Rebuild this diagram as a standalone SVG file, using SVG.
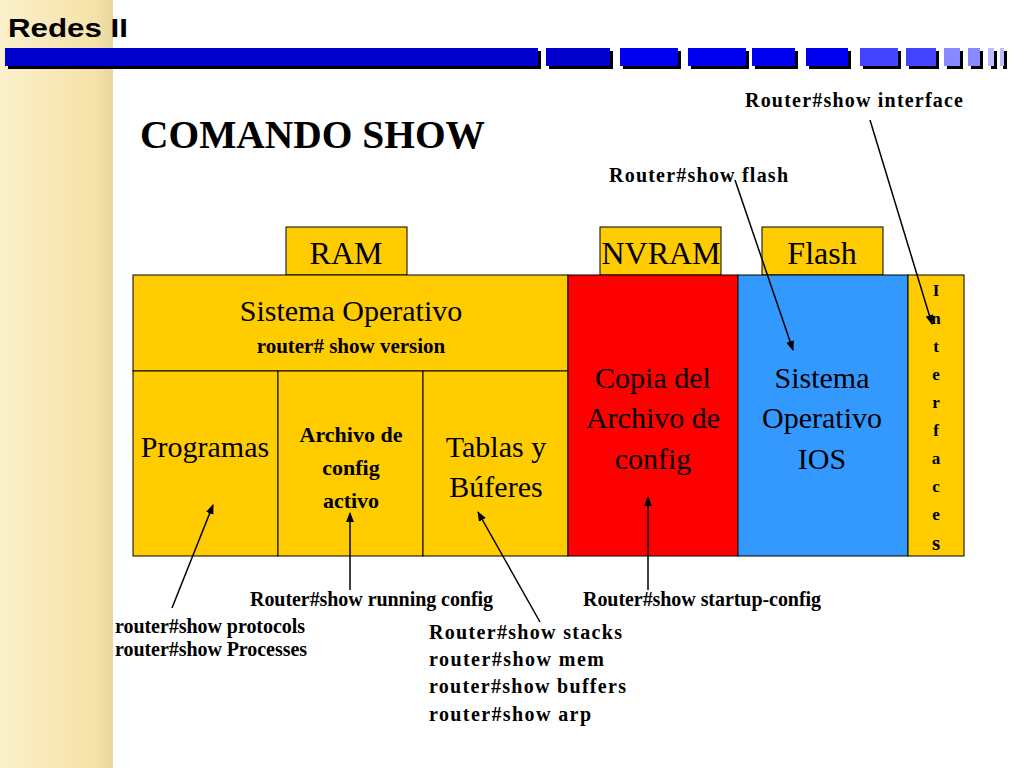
<svg xmlns="http://www.w3.org/2000/svg" width="1024" height="768" viewBox="0 0 1024 768">
<defs>
<linearGradient id="lg" x1="0" x2="1" y1="0" y2="0"><stop offset="0" stop-color="#fbf0cc"/><stop offset="0.85" stop-color="#f6e2a8"/><stop offset="1" stop-color="#e8d6a0"/></linearGradient>
<marker id="ah" markerWidth="10" markerHeight="10" refX="9" refY="5" orient="auto" markerUnits="userSpaceOnUse"><path d="M0,1 L10,5 L0,9 z" fill="#000"/></marker>
</defs>
<style>
.b{stroke:#000;stroke-width:1}
.t{font-family:"Liberation Serif",serif;fill:#000;text-anchor:middle}
.s{font-family:"Liberation Serif",serif;font-weight:bold;font-size:20px;fill:#000}
.c{stroke:#000;stroke-width:1.5;fill:none;marker-end:url(#ah)}
</style>
<rect width="1024" height="768" fill="#fff"/>
<rect x="0" y="0" width="113" height="768" fill="url(#lg)"/>
<text x="8" y="37" font-family="Liberation Sans,sans-serif" font-weight="bold" font-size="26" fill="#000" textLength="120" lengthAdjust="spacingAndGlyphs">Redes II</text>
<g id="bar">
<g fill="#000" transform="translate(3,3)">
<rect x="5" y="48" width="533" height="18"/><rect x="546" y="48" width="64" height="18"/><rect x="620" y="48" width="58" height="18"/><rect x="688" y="48" width="58" height="18"/><rect x="752" y="48" width="43" height="18"/><rect x="806" y="48" width="42" height="18"/><rect x="860" y="48" width="38" height="18"/><rect x="906" y="48" width="30" height="18"/><rect x="944" y="48" width="16" height="18"/><rect x="968" y="48" width="12" height="18"/><rect x="988" y="48" width="6" height="18"/><rect x="1000" y="48" width="4" height="18"/>
</g>
<rect x="5" y="48" width="533" height="18" fill="#0000cc"/><rect x="546" y="48" width="64" height="18" fill="#0000cc"/><rect x="620" y="48" width="58" height="18" fill="#0000ee"/><rect x="688" y="48" width="58" height="18" fill="#0000ee"/><rect x="752" y="48" width="43" height="18" fill="#0000ee"/><rect x="806" y="48" width="42" height="18" fill="#0000ee"/><rect x="860" y="48" width="38" height="18" fill="#4444ff"/><rect x="906" y="48" width="30" height="18" fill="#4444ff"/><rect x="944" y="48" width="16" height="18" fill="#8888ff"/><rect x="968" y="48" width="12" height="18" fill="#8888ff"/><rect x="988" y="48" width="6" height="18" fill="#bbbbff"/><rect x="1000" y="48" width="4" height="18" fill="#bbbbff"/>
</g>
<text x="140" y="148" font-family="Liberation Serif,serif" font-weight="bold" font-size="39" fill="#000" textLength="345" lengthAdjust="spacingAndGlyphs">COMANDO SHOW</text>
<g id="ram"><rect class="b" x="286" y="227" width="121" height="48" fill="#ffcc00"/><text class="t" x="346" y="264" font-size="32">RAM</text></g>
<g id="nvram"><rect class="b" x="600" y="227" width="121" height="48" fill="#ffcc00"/><text class="t" x="661" y="264" font-size="32">NVRAM</text></g>
<g id="flash"><rect class="b" x="762" y="227" width="121" height="48" fill="#ffcc00"/><text class="t" x="822" y="264" font-size="32">Flash</text></g>
<g id="so"><rect class="b" x="133" y="275" width="435" height="96" fill="#ffcc00"/><text class="t" x="351" y="321" font-size="30">Sistema Operativo</text><text class="t" x="351" y="353" font-size="21" font-weight="bold">router# show version</text></g>
<g id="prog"><rect class="b" x="133" y="371" width="145" height="185" fill="#ffcc00"/><text class="t" x="205" y="457" font-size="30">Programas</text></g>
<g id="arch"><rect class="b" x="278" y="371" width="145" height="185" fill="#ffcc00"/><text class="t" x="351" y="442" font-size="22" font-weight="bold">Archivo de</text><text class="t" x="351" y="475" font-size="22" font-weight="bold">config</text><text class="t" x="351" y="508" font-size="22" font-weight="bold">activo</text></g>
<g id="tab"><rect class="b" x="423" y="371" width="145" height="185" fill="#ffcc00"/><text class="t" x="496" y="457" font-size="30">Tablas y</text><text class="t" x="496" y="497" font-size="30">Búferes</text></g>
<g id="copia"><rect class="b" x="568" y="275" width="170" height="281" fill="#ff0000"/><text class="t" x="653" y="388" font-size="30">Copia del</text><text class="t" x="653" y="428" font-size="30">Archivo de</text><text class="t" x="653" y="469" font-size="30">config</text></g>
<g id="ios"><rect class="b" x="738" y="275" width="170" height="281" fill="#3399ff"/><text class="t" x="822" y="388" font-size="30">Sistema</text><text class="t" x="822" y="428" font-size="30">Operativo</text><text class="t" x="822" y="469" font-size="30">IOS</text></g>
<g id="intf"><rect class="b" x="908" y="275" width="56" height="281" fill="#ffcc00"/>
<g class="t" font-weight="bold" font-size="17"><text x="936" y="296">I</text><text x="936" y="324">n</text><text x="936" y="352">t</text><text x="936" y="380">e</text><text x="936" y="408">r</text><text x="936" y="436">f</text><text x="936" y="464">a</text><text x="936" y="492">c</text><text x="936" y="520">e</text><text x="936" y="550" font-size="21">s</text></g></g>
<g id="labels">
<text class="s" x="745" y="107" textLength="218">Router#show interface</text>
<text class="s" x="609" y="182" textLength="179">Router#show flash</text>
<text class="s" x="250" y="606" textLength="243">Router#show running config</text>
<text class="s" x="583" y="606" textLength="238">Router#show startup-config</text>
<text class="s" x="115" y="633" textLength="190">router#show protocols</text>
<text class="s" x="115" y="656" textLength="192">router#show Processes</text>
<text class="s" x="429" y="639" textLength="193">Router#show stacks</text>
<text class="s" x="429" y="666" textLength="175">router#show mem</text>
<text class="s" x="429" y="693" textLength="197">router#show buffers</text>
<text class="s" x="429" y="721" textLength="162">router#show arp</text>
</g>
<g id="connectors">
<line class="c" x1="870" y1="120" x2="932" y2="324"/>
<line class="c" x1="735" y1="180" x2="793" y2="350"/>
<line class="c" x1="350" y1="590" x2="350" y2="513"/>
<line class="c" x1="648" y1="590" x2="648" y2="497"/>
<line class="c" x1="172" y1="608" x2="213" y2="505"/>
<line class="c" x1="540" y1="622" x2="478" y2="512"/>
</g>
</svg>
